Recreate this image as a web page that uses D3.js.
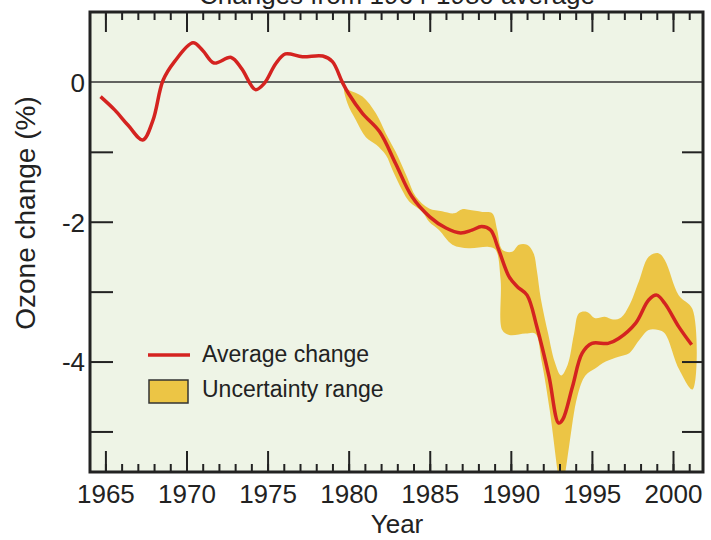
<!DOCTYPE html>
<html>
<head>
<meta charset="utf-8">
<script src="https://cdn.jsdelivr.net/npm/d3@7"></script>
<style>
  body { margin: 0; background: #fff; }
  svg text { font-family: "Liberation Sans", Arial, sans-serif; fill: #222; }
</style>
</head>
<body>
<svg id="chart" width="711" height="540"></svg>
<script>
// Average ozone change (%)
const avgYears = [1964.7, 1965.57, 1966.4, 1967.3, 1967.93, 1968.55, 1969.26, 1970.4, 1971.0,
  1971.7, 1972.75, 1973.4, 1974.25, 1974.8, 1975.5, 1976.1, 1977.15, 1978.4, 1979.0,
  1979.6, 1980.0, 1980.85, 1981.9, 1982.9, 1983.9, 1985.0, 1986.0, 1986.9, 1987.6,
  1988.2, 1988.75, 1989.25, 1989.9, 1990.4, 1991.0, 1991.6, 1992.35, 1992.95, 1993.2,
  1993.8, 1994.4, 1995.0, 1996.0, 1996.65, 1997.7, 1998.5, 1999.0, 1999.5, 2000.35, 2001.15];
const avgChange = [-0.21, -0.40, -0.62, -0.83, -0.55, 0.02, 0.29, 0.56, 0.45,
  0.27, 0.35, 0.19, -0.11, -0.02, 0.26, 0.40, 0.36, 0.37, 0.29,
  0.0, -0.17, -0.45, -0.71, -1.17, -1.64, -1.93, -2.09, -2.16, -2.12,
  -2.07, -2.12, -2.40, -2.79, -2.93, -3.05, -3.5, -4.21, -4.88, -4.83,
  -4.36, -3.88, -3.74, -3.74, -3.67, -3.45, -3.12, -3.05, -3.17, -3.5, -3.76];

// Uncertainty range: upper edge and lower edge, each with its own years
const upperYears = [1979.73, 1980.03, 1980.85, 1981.68, 1982.3, 1982.9, 1983.6, 1984.14, 1984.96, 1985.76,
  1986.5, 1987.0, 1987.4, 1988.24, 1988.85, 1989.16, 1989.47, 1990.08, 1990.5, 1991.0,
  1991.4, 1991.6, 1991.85, 1992.3, 1992.7, 1993.1, 1993.5, 1993.9, 1994.2, 1994.7,
  1995.2, 1995.8, 1996.3, 1996.8, 1997.3, 1997.9, 1998.5, 1999.1, 1999.5, 2000.35, 2001.2];
const upperChange = [-0.09, -0.12, -0.21, -0.45, -0.74, -1.0, -1.36, -1.64, -1.81, -1.85,
  -1.88, -1.82, -1.83, -1.86, -1.88, -2.12, -2.40, -2.43, -2.33, -2.33,
  -2.45, -2.69, -3.1, -3.6, -4.0, -4.2, -4.05, -3.6, -3.31, -3.29,
  -3.38, -3.36, -3.4, -3.37, -3.2, -2.85, -2.5, -2.45, -2.55, -3.05, -3.25];
const lowerYears = [1979.93, 1980.45, 1981.06, 1981.7, 1982.3, 1982.7, 1983.3, 1983.73, 1984.55, 1984.96,
  1985.57, 1986.4, 1987.4, 1988.65, 1989.06, 1989.37, 1989.47, 1989.9, 1990.9, 1991.5,
  1991.9, 1992.4, 1992.9, 1993.1, 1993.35, 1993.6, 1994.1, 1994.6, 1995.2, 1995.85,
  1996.65, 1997.3, 1997.9, 1998.5, 1999.1, 1999.5, 2000.35, 2001.2];
const lowerChange = [-0.31, -0.55, -0.79, -0.9, -1.05, -1.26, -1.55, -1.71, -1.86, -2.0,
  -2.12, -2.33, -2.38, -2.36, -2.40, -2.83, -3.55, -3.62, -3.6, -3.6,
  -4.0, -4.7, -5.6, -5.9, -5.6, -5.2, -4.5, -4.2, -4.1, -4.0,
  -3.93, -3.88, -3.7, -3.55, -3.55, -3.6, -4.1, -4.4];

// Ticks
const majorYears = [1965, 1970, 1975, 1980, 1985, 1990, 1995, 2000];
const minorYears = d3.range(1965, 2002);
const yLabelTicks = [0, -2, -4];
const yTicks = [-1, -2, -3, -4, -5];

const titleText = 'Changes from 1964-1980 average';
const legendItems = ['Average change', 'Uncertainty range'];

const Chart = (() => {
  const svg = d3.select('#chart');
  const plot = { left: 90, right: 703, top: 12, bottom: 472 };

  const x = d3.scaleLinear().domain([1964.05, 2001.85]).range([plot.left, plot.right]);
  const y = d3.scaleLinear().domain([-5.58, 1.0]).range([plot.bottom, plot.top]);

  const render = () => {
    // Plot background
    svg.append('rect')
      .attr('x', plot.left).attr('y', plot.top)
      .attr('width', plot.right - plot.left).attr('height', plot.bottom - plot.top)
      .attr('fill', '#eef4e6');

    svg.append('clipPath').attr('id', 'clip')
      .append('rect')
      .attr('x', plot.left).attr('y', plot.top)
      .attr('width', plot.right - plot.left).attr('height', plot.bottom - plot.top);

    renderData();
    renderAxes();
    renderLegend();
    renderTexts();
  };

  const renderData = () => {
    const g = svg.append('g').attr('clip-path', 'url(#clip)');

    // zero line
    g.append('line')
      .attr('x1', plot.left).attr('x2', plot.right)
      .attr('y1', y(0)).attr('y2', y(0))
      .attr('stroke', '#333').attr('stroke-width', 1.5);

    // band outline: upper edge forwards, lower edge backwards
    const outline = upperYears.map((yr, i) => [x(yr), y(upperChange[i])])
      .concat(lowerYears.map((yr, i) => [x(yr), y(lowerChange[i])]).reverse());

    g.append('path')
      .attr('d', d3.line().curve(d3.curveCatmullRomClosed.alpha(0.5))(outline))
      .attr('fill', '#ecc545');

    const line = d3.line()
      .x(i => x(avgYears[i]))
      .y(i => y(avgChange[i]))
      .curve(d3.curveCatmullRom.alpha(0.5));

    g.append('path')
      .attr('d', line(d3.range(avgYears.length)))
      .attr('fill', 'none')
      .attr('stroke', '#d42320')
      .attr('stroke-width', 3.5)
      .attr('stroke-linejoin', 'round');
  };

  const styleAxis = sel => {
    sel.select('.domain').remove();
    sel.selectAll('.tick line').attr('stroke', '#222').attr('stroke-width', 2);
  };

  const renderAxes = () => {
    // bottom: minor + major
    svg.append('g').attr('transform', `translate(0,${plot.bottom})`)
      .call(d3.axisBottom(x).tickValues(minorYears).tickSize(-8).tickFormat(''))
      .call(styleAxis);
    const bottom = svg.append('g').attr('transform', `translate(0,${plot.bottom})`)
      .call(d3.axisBottom(x).tickValues(majorYears).tickSize(-21).tickFormat(d => String(d)))
      .call(styleAxis);
    bottom.selectAll('.tick text')
      .attr('y', 31).attr('dy', 0)
      .attr('font-size', 26).attr('fill', '#222');

    // top: minor + major
    svg.append('g').attr('transform', `translate(0,${plot.top})`)
      .call(d3.axisTop(x).tickValues(minorYears).tickSize(-8).tickFormat(''))
      .call(styleAxis);
    svg.append('g').attr('transform', `translate(0,${plot.top})`)
      .call(d3.axisTop(x).tickValues(majorYears).tickSize(-20).tickFormat(''))
      .call(styleAxis);

    // left ticks and labels
    svg.append('g').attr('transform', `translate(${plot.left},0)`)
      .call(d3.axisLeft(y).tickValues(yTicks).tickSize(-23).tickFormat(''))
      .call(styleAxis);
    const left = svg.append('g').attr('transform', `translate(${plot.left},0)`)
      .call(d3.axisLeft(y).tickValues(yLabelTicks).tickSize(0).tickPadding(5).tickFormat(d => String(d)))
      .call(styleAxis);
    left.selectAll('.tick text')
      .attr('font-size', 26).attr('fill', '#222').attr('dy', '0.36em');

    // right ticks
    svg.append('g').attr('transform', `translate(${plot.right},0)`)
      .call(d3.axisRight(y).tickValues(yTicks).tickSize(-21).tickFormat(''))
      .call(styleAxis);

    // frame
    svg.append('rect')
      .attr('x', plot.left).attr('y', plot.top)
      .attr('width', plot.right - plot.left).attr('height', plot.bottom - plot.top)
      .attr('fill', 'none').attr('stroke', '#222').attr('stroke-width', 3);
  };

  const renderLegend = () => {
    const g = svg.append('g');
    g.append('line')
      .attr('x1', 148).attr('x2', 190).attr('y1', 355).attr('y2', 355)
      .attr('stroke', '#d42320').attr('stroke-width', 3.5);
    g.append('rect')
      .attr('x', 149).attr('y', 380).attr('width', 39).attr('height', 23)
      .attr('fill', '#ecc545').attr('stroke', '#333').attr('stroke-width', 1.5);
    g.selectAll('text.legend')
      .data(legendItems)
      .enter()
      .append('text')
      .attr('class', 'legend')
      .attr('x', 202)
      .attr('y', (d, i) => 362 + i * 35)
      .attr('font-size', 23)
      .text(d => d);
  };

  const renderTexts = () => {
    // title is cut off by the top edge, as in the source picture
    svg.append('text')
      .attr('x', 397).attr('y', 4)
      .attr('text-anchor', 'middle').attr('font-size', 26)
      .text(titleText);
    svg.append('text')
      .attr('x', 397).attr('y', 533)
      .attr('text-anchor', 'middle').attr('font-size', 26)
      .text('Year');
    svg.append('text')
      .attr('transform', 'translate(35,213) rotate(-90)')
      .attr('text-anchor', 'middle').attr('font-size', 28)
      .text('Ozone change (%)');
  };

  return { render };
})();

Chart.render();
</script>
</body>
</html>
